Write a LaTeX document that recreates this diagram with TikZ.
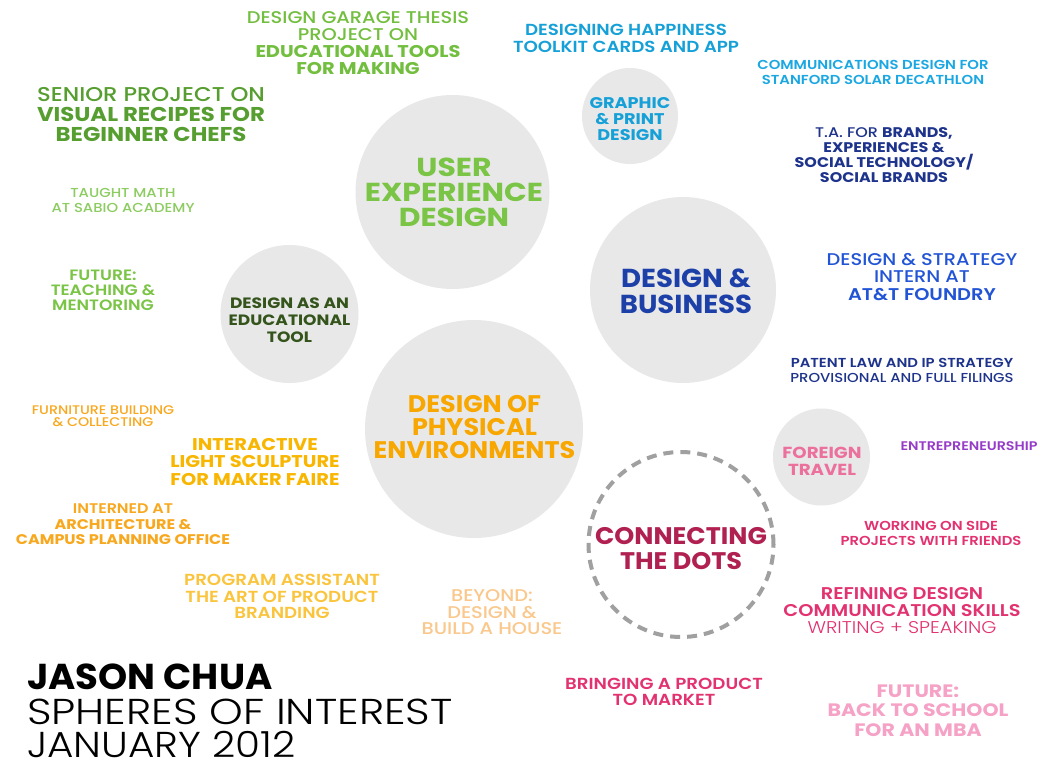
\documentclass[tikz,border=0pt]{standalone}
\usepackage{fontspec}
\setmainfont{Poppins}
% text faces, widened a little for a broad geometric look
\newfontfamily\fL{Poppins Light}[FakeStretch=1.14]
\newfontfamily\fM{Poppins Medium}[FakeStretch=1.14]
\newfontfamily\fS{Poppins SemiBold}[FakeStretch=1.14]
\newfontfamily\fB{Poppins Bold}[FakeStretch=1.14]
% faces for the sphere titles
\newfontfamily\fT{Poppins Bold}[FakeStretch=1.06]
\newfontfamily\fTw{Poppins Bold}[FakeStretch=1.15]
% faces for the title block
\newfontfamily\fTL{Poppins Light}[FakeStretch=1.19]
\newfontfamily\fTLn{Poppins Light}[FakeStretch=1.125]
\newfontfamily\fTB{Poppins Bold}[FakeStretch=1.03]
\newcommand\fz[2]{\fontsize{#1}{#2}\selectfont}

\definecolor{uxgreen}{RGB}{122,196,70}
\definecolor{garagegreen}{RGB}{114,190,62}
\definecolor{seniorgreen}{RGB}{86,158,48}
\definecolor{lightgreen}{RGB}{140,204,96}
\definecolor{darkgreen}{RGB}{52,84,28}
\definecolor{cyanA}{RGB}{22,160,216}
\definecolor{cyanB}{RGB}{27,168,226}
\definecolor{navy}{RGB}{30,52,140}
\definecolor{dbblue}{RGB}{28,64,168}
\definecolor{brblue}{RGB}{34,84,214}
\definecolor{orangeA}{RGB}{248,166,0}
\definecolor{orangeB}{RGB}{248,168,30}
\definecolor{yellowA}{RGB}{249,182,0}
\definecolor{yellowB}{RGB}{250,196,60}
\definecolor{peach}{RGB}{250,200,140}
\definecolor{crimson}{RGB}{176,32,80}
\definecolor{pinkA}{RGB}{236,112,156}
\definecolor{rose}{RGB}{226,50,112}
\definecolor{purpleA}{RGB}{150,60,200}
\definecolor{palepink}{RGB}{246,162,198}
\definecolor{dotgray}{RGB}{160,160,160}
\definecolor{spherefill}{RGB}{232,232,232}

\tikzset{
  sphere/.style={circle, fill=spherefill, inner sep=0pt},
  dotring/.style={circle, draw=dotgray, line width=4pt, dash pattern=on 10pt off 7pt, inner sep=0pt},
  txt/.style={align=center, inner sep=0pt},
}

\begin{document}
\begin{tikzpicture}[x=1pt,y=-1pt]
\path[use as bounding box, fill=white] (0,0) rectangle (1053,764);

% spheres
\node[sphere, minimum size=194pt] (ux)  at (452.5,192) {};
\node[sphere, minimum size=96pt]  (gp)  at (630,116) {};
\node[sphere, minimum size=186pt] (db)  at (683,290) {};
\node[sphere, minimum size=138pt] (edu) at (289.5,314) {};
\node[sphere, minimum size=218pt] (phys) at (474,429) {};
\node[sphere, minimum size=97pt]  (ft)  at (821.5,457) {};
\node[dotring, minimum size=185pt] (dots) at (681,544.5) {};

% sphere titles
\node[txt, font=\fTw\fz{26}{25}, text=uxgreen] (uxT) at (454,192) {USER\\EXPERIENCE\\DESIGN};
\node[txt, font=\fB\fz{15.5}{16}, text=cyanA] (gpT) at (630,119.5) {GRAPHIC\\\& PRINT\\DESIGN};
\node[txt, font=\fT\fz{26}{26}, text=dbblue] (dbT) at (686,291.5) {DESIGN \&\\BUSINESS};
\node[txt, font=\fB\fz{15}{17}, text=darkgreen] (eduT) at (289.5,320) {DESIGN AS AN\\EDUCATIONAL\\TOOL};
\node[txt, font=\fT\fz{24}{23}, text=orangeA] (physT) at (474.5,427.5) {DESIGN OF\\PHYSICAL\\ENVIRONMENTS};
\node[txt, font=\fB\fz{16}{17}, text=pinkA] (ftT) at (822,461) {FOREIGN\\TRAVEL};
\node[txt, font=\fT\fz{24}{25}, text=crimson] (dotsT) at (681,549) {CONNECTING\\THE DOTS};

% green items
\node[txt, font=\fz{17}{17}, text=garagegreen] (garage) at (358,43.5)
  {\fM DESIGN GARAGE THESIS\\\fM PROJECT ON\\\fB EDUCATIONAL TOOLS\\\fB FOR MAKING};
\node[txt, font=\fz{20}{20}, text=seniorgreen] (senior) at (151,115)
  {\fM SENIOR PROJECT ON\\\fB VISUAL RECIPES FOR\\\fB BEGINNER CHEFS};
\node[txt, font=\fM\fz{13}{15}, text=lightgreen] (math) at (123,200.5)
  {TAUGHT MATH\\AT SABIO ACADEMY};
\node[txt, font=\fS\fz{15}{15}, text=uxgreen] (teach) at (103,290)
  {FUTURE:\\TEACHING \&\\MENTORING};

% blue items
\node[txt, font=\fS\fz{16}{17}, text=cyanA] (happy) at (626,38.5)
  {DESIGNING HAPPINESS\\TOOLKIT CARDS AND APP};
\node[txt, font=\fS\fz{13}{15}, text=cyanB] (comm) at (873,72.5)
  {COMMUNICATIONS DESIGN FOR\\STANFORD SOLAR DECATHLON};
\node[txt, font=\fz{14}{15}, text=navy] (ta) at (884,155.5)
  {\fM T.A. FOR \fB BRANDS,\\\fB EXPERIENCES \&\\\fB SOCIAL TECHNOLOGY/\\\fB SOCIAL BRANDS};
\node[txt, font=\fz{17}{17.5}, text=brblue] (strat) at (922,277)
  {\fM DESIGN \& STRATEGY\\\fM INTERN AT\\\fS AT\&T FOUNDRY};
\node[txt, font=\fz{13}{15}, text=navy] (patent) at (902,370.5)
  {\fS PATENT LAW AND IP STRATEGY\\\fM PROVISIONAL AND FULL FILINGS};

% orange items
\node[txt, font=\fM\fz{12.5}{12}, text=orangeB] (furn) at (103,416)
  {FURNITURE BUILDING\\\& COLLECTING};
\node[txt, font=\fB\fz{17}{17.5}, text=yellowA] (light) at (255,461.7)
  {INTERACTIVE\\LIGHT SCULPTURE\\FOR MAKER FAIRE};
\node[txt, font=\fz{14}{15.5}, text=orangeB] (arch) at (123,524.3)
  {\fS INTERNED AT\\\fB ARCHITECTURE \&\\\fB CAMPUS PLANNING OFFICE};
\node[txt, font=\fS\fz{16}{16.5}, text=yellowB] (prog) at (282,596.7)
  {PROGRAM ASSISTANT\\THE ART OF PRODUCT\\BRANDING};
\node[txt, font=\fM\fz{17}{16.5}, text=peach] (house) at (492,612.3)
  {BEYOND:\\DESIGN \&\\BUILD A HOUSE};

% pink and purple items
\node[txt, font=\fS\fz{12.5}{15}, text=purpleA] (entre) at (969,446) {ENTREPRENEURSHIP};
\node[txt, font=\fS\fz{13}{15}, text=rose] (side) at (931,533.5)
  {WORKING ON SIDE\\PROJECTS WITH FRIENDS};
\node[txt, font=\fz{17}{17}, text=rose] (refine) at (902,611)
  {\fS REFINING DESIGN\\\fS COMMUNICATION SKILLS\\\fL WRITING + SPEAKING};
\node[txt, font=\fS\fz{16}{16}, text=rose] (market) at (664,692)
  {BRINGING A PRODUCT\\TO MARKET};
\node[txt, font=\fB\fz{18}{19.5}, text=palepink] (mba) at (918,710.5)
  {FUTURE:\\BACK TO SCHOOL\\FOR AN MBA};

% title block
\node[anchor=base west, inner sep=0pt, font=\fTB\fz{36}{36}] (name) at (27,689) {JASON CHUA};
\node[anchor=base west, inner sep=0pt, font=\fTL\fz{36}{36}] (sub) at (27,724) {SPHERES OF INTEREST};
\node[anchor=base west, inner sep=0pt, font=\fTLn\fz{36}{36}] (date) at (27,757.5) {JANUARY 2012};
\end{tikzpicture}
\end{document}
